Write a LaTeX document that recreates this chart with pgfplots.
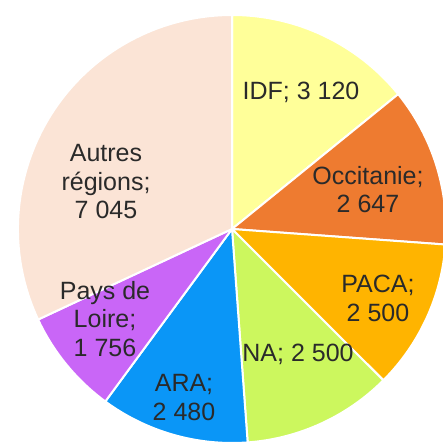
\documentclass[border=0pt]{standalone}
\usepackage{pgfplots}
\pgfplotsset{compat=1.18}
\usepackage{fontspec}
\setmainfont{Liberation Sans}
\definecolor{cIDF}{HTML}{FFFF99}
\definecolor{cOcc}{HTML}{EE7B30}
\definecolor{cPACA}{HTML}{FFB400}
\definecolor{cNA}{HTML}{CCF75E}
\definecolor{cARA}{HTML}{0A96F7}
\definecolor{cPDL}{HTML}{C966F7}
\definecolor{cAut}{HTML}{FBE4D6}
\definecolor{labc}{HTML}{2A2A2A}
\tikzset{lbl/.style={font=\fontsize{25}{28.5}\selectfont, text=labc, align=center, inner sep=0pt}}
\begin{document}
\begin{tikzpicture}
\useasboundingbox (0,0) rectangle (443pt,444pt);
\begin{axis}[at={(0pt,0pt)}, anchor=south west, scale only axis,
  width=443pt, height=444pt, xmin=0, xmax=443, ymin=0, ymax=444,
  hide axis, clip mode=global]
\gdef\tot{0}
\foreach \v in {3120,2647,2500,2500,2480,1756,7045}{
  \pgfmathsetmacro\tn{\tot+\v/1000}\xdef\tot{\tn}}
\gdef\cum{0}
\foreach \v/\c in {3120/cIDF, 2647/cOcc, 2500/cPACA, 2500/cNA, 2480/cARA, 1756/cPDL, 7045/cAut}{
  \pgfmathsetmacro\a{90-\cum*360/\tot}
  \pgfmathsetmacro\b{90-(\cum+\v/1000)*360/\tot}
  \edef\tmp{\noexpand\fill[\c, draw=white, line width=2pt, line join=round] (axis cs:232,215) -- ++(\a:214pt) arc[start angle=\a, end angle=\b, radius=214pt] -- cycle;}
  \tmp
  \pgfmathsetmacro\cumn{\cum+\v/1000}
  \xdef\cum{\cumn}
}
\node[lbl] at (axis cs:301,352) {IDF; 3 120};
\node[lbl] at (axis cs:368,254.5) {Occitanie;\\2 647};
\node[lbl] at (axis cs:378,145.5) {PACA;\\2 500};
\node[lbl] at (axis cs:298,90) {NA; 2 500};
\node[lbl] at (axis cs:184,46.5) {ARA;\\2 480};
\node[lbl] at (axis cs:105,125) {Pays de\\Loire;\\1 756};
\node[lbl] at (axis cs:106,262) {Autres\\régions;\\7 045};
\end{axis}
\end{tikzpicture}
\end{document}
